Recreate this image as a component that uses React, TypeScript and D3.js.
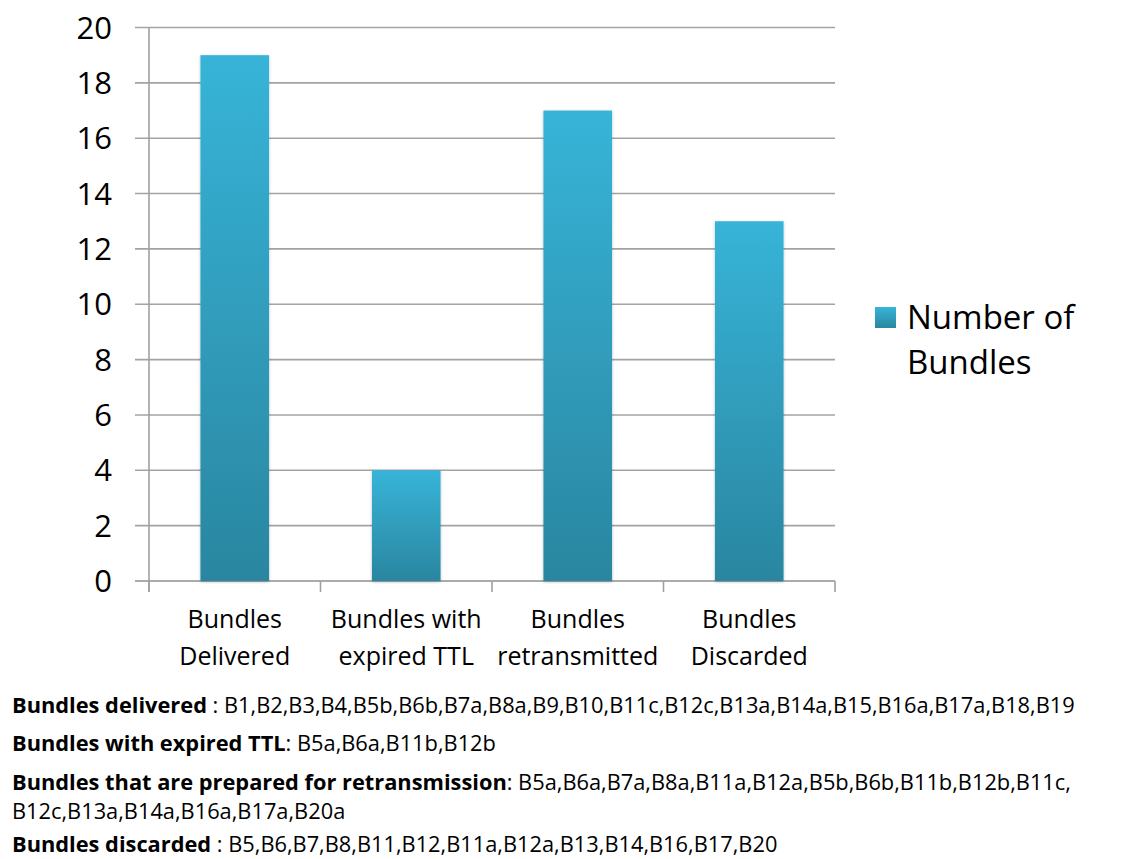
import React from "react";
import * as d3 from "d3";

// Bar chart data
const categories: string[][] = [
  ["Bundles", "Delivered"],
  ["Bundles with", "expired TTL"],
  ["Bundles", "retransmitted"],
  ["Bundles", "Discarded"],
];
const bundleCounts: number[] = [19, 4, 17, 13];
const yTicks: number[] = [0, 2, 4, 6, 8, 10, 12, 14, 16, 18, 20];
const seriesName: string[] = ["Number of", "Bundles"];

// Notes listed under the chart
const noteLines: { bold: string; rest: string }[] = [
  { bold: "Bundles delivered", rest: " : B1,B2,B3,B4,B5b,B6b,B7a,B8a,B9,B10,B11c,B12c,B13a,B14a,B15,B16a,B17a,B18,B19" },
  { bold: "Bundles with expired TTL", rest: ": B5a,B6a,B11b,B12b" },
  { bold: "Bundles that are prepared for retransmission", rest: ": B5a,B6a,B7a,B8a,B11a,B12a,B5b,B6b,B11b,B12b,B11c," },
  { bold: "", rest: "B12c,B13a,B14a,B16a,B17a,B20a" },
  { bold: "Bundles discarded", rest: " : B5,B6,B7,B8,B11,B12,B11a,B12a,B13,B14,B16,B17,B20" },
];
const noteBaselines = [713, 751, 790, 819, 852];

const W = 1122;
const H = 859;
const plot = { left: 149, right: 835, top: 27.5, bottom: 581 };
const FONT = "'Open Sans', sans-serif";

export default function App() {
  const x = d3
    .scaleBand<number>()
    .domain(d3.range(categories.length))
    .range([plot.left, plot.right])
    .paddingInner(0.6)
    .paddingOuter(0.3);
  const y = d3.scaleLinear().domain([0, 20]).range([plot.bottom, plot.top]);
  const step = (plot.right - plot.left) / categories.length;
  const boundaries = d3.range(categories.length + 1).map((i) => plot.left + i * step);

  return (
    <svg
      width={W}
      height={H}
      viewBox={`0 0 ${W} ${H}`}
      style={{ position: "absolute", left: 0, top: 0, background: "#fff" }}
      fontFamily={FONT}
    >
      <defs>
        <linearGradient id="barFill" x1="0" y1="0" x2="0" y2="1">
          <stop offset="0" stopColor="#37b4d8" />
          <stop offset="1" stopColor="#2a86a0" />
        </linearGradient>
        <filter id="barShadow" x="-20%" y="-5%" width="140%" height="110%">
          <feDropShadow dx="0" dy="1" stdDeviation="1.5" floodColor="#000" floodOpacity="0.25" />
        </filter>
      </defs>

      {/* horizontal gridlines */}
      {yTicks.map((t) => (
        <line
          key={`g${t}`}
          x1={plot.left - 14}
          x2={plot.right}
          y1={y(t)}
          y2={y(t)}
          stroke={t === 0 ? "#8f8f8f" : "#a3a3a3"}
          strokeWidth={1.6}
        />
      ))}

      {/* value axis */}
      <line x1={plot.left} x2={plot.left} y1={plot.top} y2={plot.bottom + 11} stroke="#a0a0a0" strokeWidth={1.6} />

      {/* category tick marks */}
      {boundaries.map((bx, i) => (
        <line key={`t${i}`} x1={bx} x2={bx} y1={plot.bottom} y2={plot.bottom + 11} stroke="#a0a0a0" strokeWidth={1.6} />
      ))}

      {/* y tick labels */}
      {yTicks.map((t) => (
        <text key={`l${t}`} x={112} y={y(t) + 11} textAnchor="end" fontSize={31} fill="#000">
          {t}
        </text>
      ))}

      {/* bars */}
      {bundleCounts.map((v, i) => (
        <rect
          key={`b${i}`}
          x={x(i)}
          y={y(v)}
          width={x.bandwidth()}
          height={y(0) - y(v)}
          fill="url(#barFill)"
          filter="url(#barShadow)"
        />
      ))}

      {/* category labels */}
      {categories.map((lines, i) => (
        <text key={`c${i}`} textAnchor="middle" fontSize={25} fill="#000">
          {lines.map((ln, j) => (
            <tspan key={j} x={plot.left + (i + 0.5) * step} y={628 + j * 37}>
              {ln}
            </tspan>
          ))}
        </text>
      ))}

      {/* legend */}
      <rect x={875} y={307} width={21} height={21} fill="url(#barFill)" />
      <text fontSize={33} fill="#000">
        {seriesName.map((ln, j) => (
          <tspan key={j} x={907} y={329 + j * 45}>
            {ln}
          </tspan>
        ))}
      </text>

      {/* notes */}
      <g transform="translate(12,0)">
        {noteLines.map((n, i) => (
          <text key={`n${i}`} x={0} y={noteBaselines[i]} fontSize={21.8} fill="#000">
            {n.bold && <tspan fontWeight="bold">{n.bold}</tspan>}
            <tspan>{n.rest}</tspan>
          </text>
        ))}
      </g>
    </svg>
  );
}
